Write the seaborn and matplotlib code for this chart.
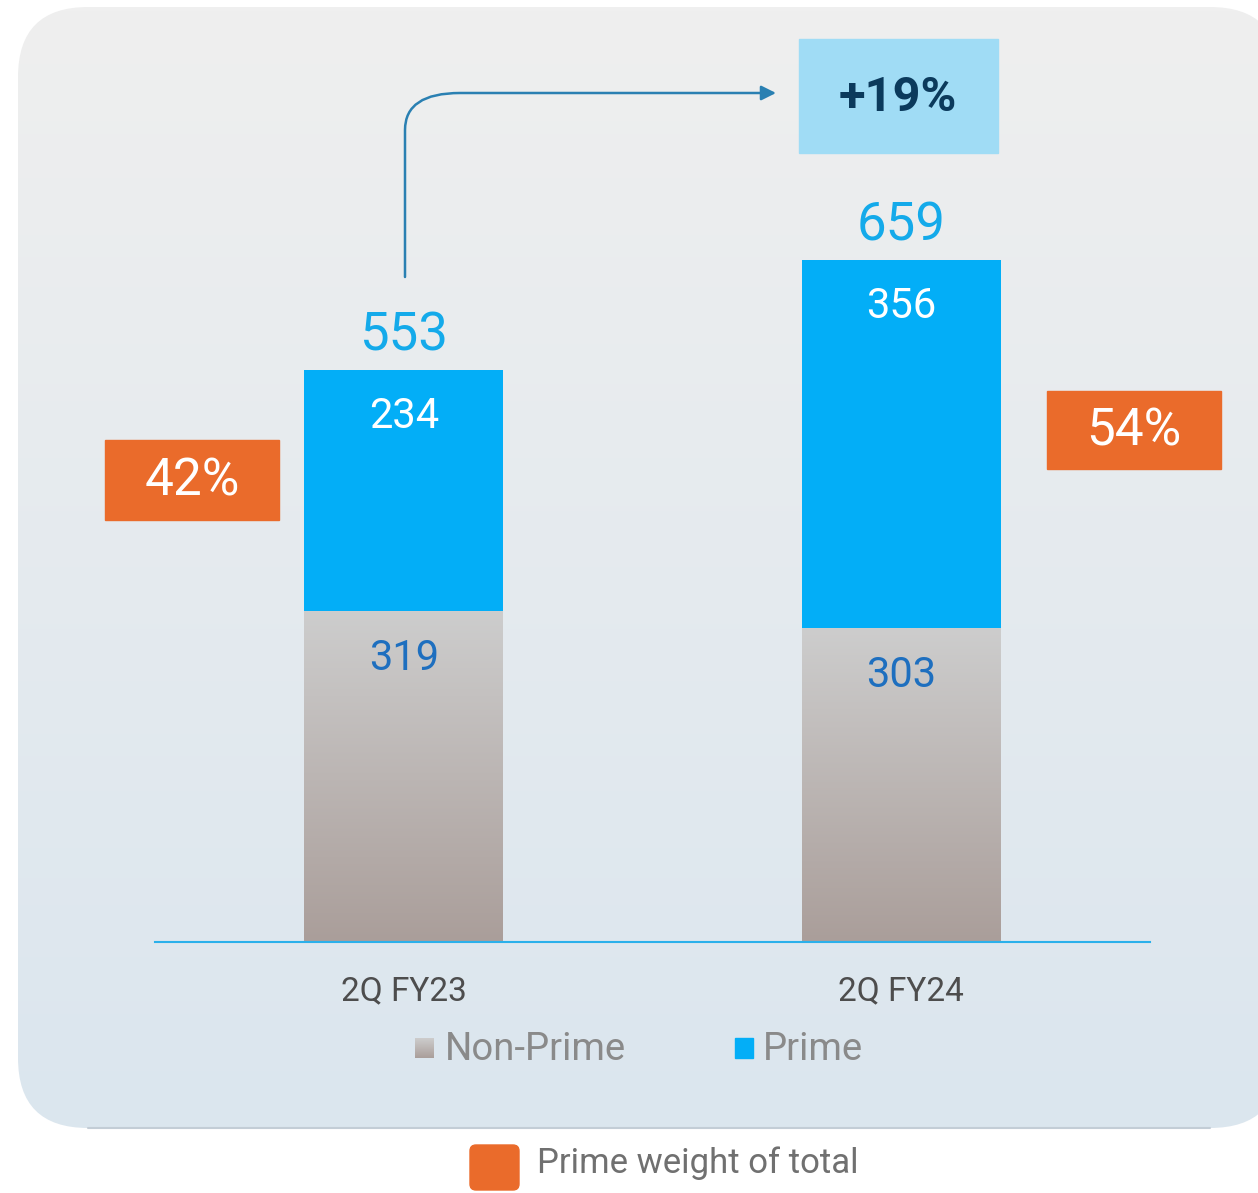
import numpy as np
import pandas as pd
import matplotlib
matplotlib.use('Agg')
import matplotlib.pyplot as plt
import seaborn as sns
from matplotlib.colors import to_rgb
from matplotlib.patches import FancyBboxPatch, Rectangle, FancyArrowPatch
from matplotlib.path import Path

# data
periods = ['2Q FY23', '2Q FY24']
non_prime = [319, 303]
prime = [234, 356]
series_names = ['Non-Prime', 'Prime']
weight_name = 'Prime weight of total'

totals = [a + b for a, b in zip(non_prime, prime)]
weights = [p / t for p, t in zip(prime, totals)]
growth = totals[1] / totals[0] - 1

df = pd.DataFrame({'period': periods, 'non_prime': non_prime,
                   'prime': prime, 'total': totals})

# colours
prime_c = '#03AEF7'
np_top, np_bot = '#CDCDCD', '#AA9E9A'
orange = '#EA6B2B'
light_blue = '#A0DCF5'


def vgrad(c1, c2, n=256):
    a, b = np.array(to_rgb(c1)), np.array(to_rgb(c2))
    t = np.linspace(0, 1, n)[:, None]
    return (a + (b - a) * t)[:, None, :]


sns.set_theme(style='white')
plt.rcParams['font.family'] = ['Roboto', 'DejaVu Sans']

W, H = 1258, 1193
fig = plt.figure(figsize=(W / 100, H / 100), dpi=100)

# background layer in pixel coordinates
bg = fig.add_axes([0, 0, 1, 1])
bg.set_xlim(0, W)
bg.set_ylim(H, 0)
bg.axis('off')

panel = FancyBboxPatch((18, 7), 1262, 1121, boxstyle='round,pad=0,rounding_size=70',
                       facecolor='none', edgecolor='none', zorder=2)
bg.add_patch(panel)
img = bg.imshow(vgrad('#EFEFEF', '#DBE6EE'), extent=(18, 1280, 1128, 7),
                aspect='auto', zorder=1)
img.set_clip_path(panel)
bg.plot([88, 1210], [1128, 1128], color='#C3CDD6', lw=1.5, zorder=2)

# weight boxes
for (x0, y0, w, h), val in zip([(105, 440, 174, 80), (1047, 391, 174, 78)], weights):
    bg.add_patch(Rectangle((x0, y0), w, h, color=orange, zorder=3))
    bg.text(x0 + w / 2, y0 + h / 2 + 2, f'{val:.0%}', ha='center', va='center',
            fontsize=37, color='white', zorder=4)

# growth box
bg.add_patch(Rectangle((799, 39), 199, 114, color=light_blue, zorder=3))
bg.text(898, 98, f'{growth:+.0%}', ha='center', va='center', fontsize=35,
        fontweight='bold', color='#0B3A5C', zorder=4)

# arrow
arrow_path = Path([(405, 277), (405, 130), (405, 93), (460, 93), (776, 93)],
                  [Path.MOVETO, Path.LINETO, Path.CURVE3, Path.CURVE3, Path.LINETO])
bg.add_patch(FancyArrowPatch(path=arrow_path, arrowstyle='-|>', mutation_scale=22,
                             color='#2A80B2', lw=1.8, zorder=4))

# series legend
bg.imshow(vgrad(np_top, np_bot), extent=(415, 434, 1058, 1038), aspect='auto', zorder=4)
bg.text(445, 1060, series_names[0], fontsize=27.5, color='#8A8A8A', va='baseline', zorder=4)
bg.add_patch(Rectangle((735, 1038), 18, 20, color=prime_c, zorder=4))
bg.text(763, 1060, series_names[1], fontsize=27.5, color='#8A8A8A', va='baseline', zorder=4)

# weight legend
bg.add_patch(FancyBboxPatch((470, 1145), 49, 45, boxstyle='round,pad=0,rounding_size=6',
                            color=orange, zorder=4))
bg.text(537, 1173, weight_name, fontsize=25, color='#707070', va='baseline', zorder=4)
bg.set_xlim(0, W)
bg.set_ylim(H, 0)

# chart axes
px_per_unit = 1.035
ymax = 880
ax = fig.add_axes([155 / W, (H - 942) / H, 995 / W, ymax * px_per_unit / H])
ax.set_facecolor('none')

sns.barplot(data=df, x='period', y='total', color=prime_c, width=0.4,
            saturation=1, linewidth=0, ax=ax)
sns.barplot(data=df, x='period', y='non_prime', color=np_top, width=0.4,
            saturation=1, linewidth=0, ax=ax)

for p in ax.patches[len(periods):]:
    x, w, h = p.get_x(), p.get_width(), p.get_height()
    p.set_facecolor('none')
    ax.imshow(vgrad(np_top, np_bot), extent=(x, x + w, 0, h), aspect='auto', zorder=3)

for i in range(len(periods)):
    ax.annotate(f'{totals[i]}', (i, totals[i]), xytext=(0, 14), textcoords='offset points',
                ha='center', va='baseline', fontsize=38, color='#14AAEA')
    ax.annotate(f'{prime[i]}', (i, totals[i]), xytext=(0, -42), textcoords='offset points',
                ha='center', va='baseline', fontsize=30, color='white', zorder=5)
    ax.annotate(f'{non_prime[i]}', (i, non_prime[i]), xytext=(0, -42), textcoords='offset points',
                ha='center', va='baseline', fontsize=30, color='#1E6FBF', zorder=5)

ax.set_xlim(-0.5, 1.5)
ax.set_ylim(0, ymax)
ax.set_xticks(range(len(periods)))
ax.set_xticklabels(periods, fontsize=24, color='#4D4D4D')
ax.set_yticks([])
ax.set_xlabel('')
ax.set_ylabel('')
ax.tick_params(axis='x', length=0, pad=24)
for s in ['top', 'left', 'right']:
    ax.spines[s].set_visible(False)
ax.spines['bottom'].set_color('#2BB0EA')
ax.spines['bottom'].set_linewidth(1.5)
ax.spines['bottom'].set_zorder(6)

fig.savefig('out.png', dpi=100)
